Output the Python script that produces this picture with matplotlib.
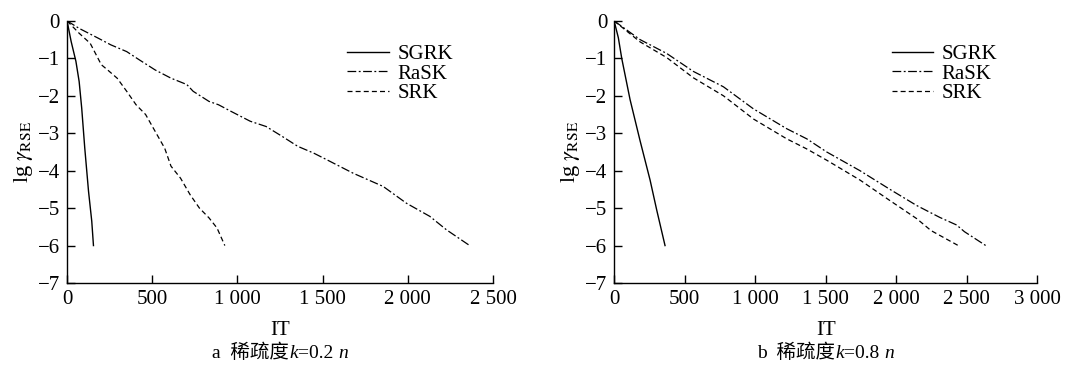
import numpy as np
import matplotlib.pyplot as plt
from matplotlib.ticker import FuncFormatter
from matplotlib.offsetbox import TextArea, HPacker, AnchoredOffsetbox

plt.rcParams['font.family'] = ['Liberation Serif', 'Noto Sans CJK SC']
plt.rcParams['mathtext.fontset'] = 'stix'

# panel a: k = 0.2 n
a_sgrk_x = [0, 24, 52, 71, 86, 104, 126, 145, 155]
a_sgrk_y = [0, -0.55, -1.08, -1.62, -2.33, -3.4, -4.55, -5.35, -6]
a_rask_x = [0, 71, 182, 257, 350, 424, 517, 610, 703, 740, 833, 889, 964, 1075, 1168, 1261,
            1354, 1447, 1521, 1680, 1855, 1992, 2129, 2227, 2363]
a_rask_y = [0, -0.2, -0.46, -0.64, -0.82, -1.04, -1.31, -1.53, -1.7, -1.88, -2.15, -2.24, -2.42,
            -2.68, -2.82, -3.08, -3.35, -3.53, -3.7, -4.07, -4.42, -4.87, -5.22, -5.58, -6]
a_srk_x = [0, 71, 136, 201, 238, 294, 350, 405, 461, 517, 573, 610, 666, 722, 777, 833, 880, 926]
a_srk_y = [0, -0.33, -0.6, -1.17, -1.31, -1.53, -1.88, -2.24, -2.5, -2.95, -3.4, -3.88, -4.2,
           -4.64, -5.0, -5.26, -5.53, -6]

# panel b: k = 0.8 n
b_sgrk_x = [0, 30, 54, 113, 184, 255, 302, 361]
b_sgrk_y = [0, -0.45, -1.0, -2.1, -3.2, -4.25, -5.05, -6]
b_rask_x = [0, 184, 373, 562, 775, 988, 1224, 1366, 1507, 1743, 1956, 2145, 2310, 2428, 2484,
            2635]
b_rask_y = [0, -0.5, -0.87, -1.35, -1.76, -2.35, -2.88, -3.15, -3.5, -4.0, -4.5, -4.93, -5.25,
            -5.45, -5.63, -6]
b_srk_x = [0, 184, 373, 562, 775, 988, 1224, 1366, 1507, 1743, 1956, 2145, 2247, 2440]
b_srk_y = [0, -0.56, -0.98, -1.52, -2.0, -2.62, -3.15, -3.42, -3.72, -4.25, -4.8, -5.28, -5.6, -6]

a_xticks = [0, 500, 1000, 1500, 2000, 2500]
b_xticks = [0, 500, 1000, 1500, 2000, 2500, 3000]
yticks = [0, -1, -2, -3, -4, -5, -6, -7]

panels = [
    (a_sgrk_x, a_sgrk_y, a_rask_x, a_rask_y, a_srk_x, a_srk_y, a_xticks, ('a', '0.2')),
    (b_sgrk_x, b_sgrk_y, b_rask_x, b_rask_y, b_srk_x, b_srk_y, b_xticks, ('b', '0.8')),
]

fig = plt.figure(figsize=(10.85, 3.75), dpi=100)
rects = [[0.0618, 0.2453, 0.3926, 0.699], [0.566, 0.2453, 0.390, 0.699]]


def fmt(v, pos):
    v = int(round(v))
    if v < 0:
        return '\u2212' + str(-v)
    if v >= 1000:
        return '%d %03d' % (v // 1000, v % 1000)
    return str(v)


for rect, p in zip(rects, panels):
    sx, sy, rx, ry, kx, ky, xt, cap = p
    ax = fig.add_axes(rect)
    ax.plot(sx, sy, color='black', lw=1.0, ls='-', label='SGRK')
    ax.plot(rx, ry, color='black', lw=0.9, ls=(0, (7, 2, 1.5, 2)), label='RaSK')
    ax.plot(kx, ky, color='black', lw=0.9, ls=(0, (4, 2.5)), label='SRK')
    ax.set_xlim(0, xt[-1])
    ax.set_ylim(-7, 0)
    ax.set_xticks(xt)
    ax.set_yticks(yticks)
    ax.xaxis.set_major_formatter(FuncFormatter(fmt))
    ax.yaxis.set_major_formatter(FuncFormatter(fmt))
    for s in ['top', 'right']:
        ax.spines[s].set_visible(False)
    for s in ['left', 'bottom']:
        ax.spines[s].set_linewidth(1.0)
    ax.tick_params(direction='in', length=6, width=1.0, labelsize=15, pad=5)
    ax.set_xlabel('IT', fontsize=15, labelpad=9)
    ax.set_ylabel(r'lg $\gamma_{\mathrm{RSE}}$', fontsize=16, labelpad=2)
    ax.legend(loc='upper right', bbox_to_anchor=(0.93, 0.95), frameon=False, fontsize=15,
              handlelength=2.0, handletextpad=0.4, labelspacing=0.0, borderpad=0)

    # caption: letter, CJK text, italic k and n
    up = dict(size=14, family=['Liberation Serif', 'Noto Sans CJK SC'])
    it = dict(size=14, family='Liberation Serif', style='italic')
    parts = [TextArea(cap[0] + '  稀疏度', textprops=up),
             TextArea('k', textprops=it),
             TextArea('=' + cap[1] + ' ', textprops=up),
             TextArea('n', textprops=it)]
    box = HPacker(children=parts, align='baseline', pad=0, sep=0)
    anc = AnchoredOffsetbox(loc='center', child=box, frameon=False,
                            bbox_to_anchor=(0.5, -0.265), bbox_transform=ax.transAxes,
                            borderpad=0, pad=0)
    ax.add_artist(anc)

fig.savefig('out.png', dpi=100)
